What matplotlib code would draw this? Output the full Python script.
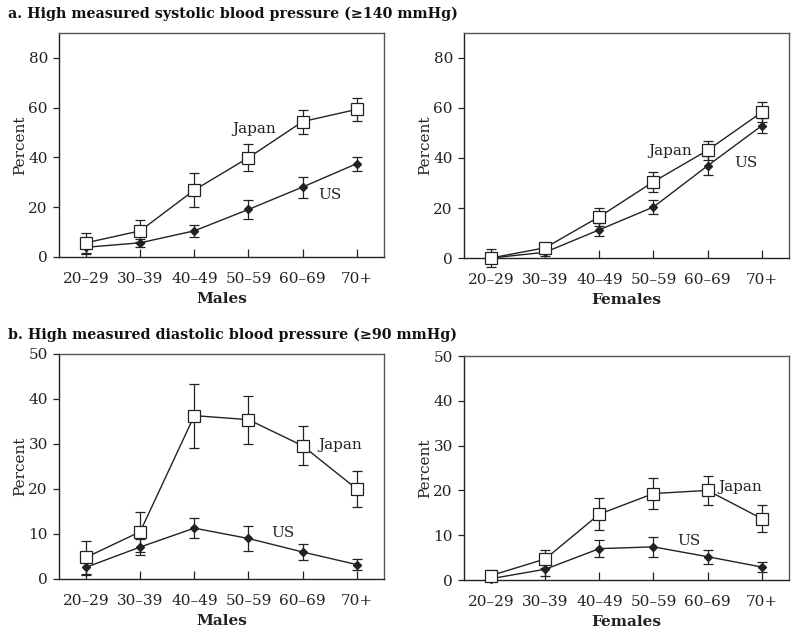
import matplotlib.pyplot as plt

ages = ["20–29", "30–39", "40–49", "50–59", "60–69", "70+"]

# a. systolic >= 140 mmHg
sys_m_japan = [5.7, 10.5, 26.9, 39.9, 54.4, 59.3]
sys_m_japan_err = [4.0, 4.4, 6.7, 5.5, 4.8, 4.7]
sys_m_us = [3.9, 5.7, 10.5, 19.1, 28.1, 37.5]
sys_m_us_err = [2.5, 1.5, 2.4, 3.9, 4.2, 2.8]

sys_f_japan = [0.0, 4.1, 16.5, 30.5, 43.1, 58.3]
sys_f_japan_err = [3.5, 1.5, 3.6, 4.0, 3.8, 4.0]
sys_f_us = [0.0, 2.3, 11.3, 20.4, 36.9, 52.9]
sys_f_us_err = [0.5, 1.5, 2.6, 2.7, 3.7, 3.0]

# b. diastolic >= 90 mmHg
dia_m_japan = [4.8, 10.5, 36.3, 35.4, 29.6, 20.0]
dia_m_japan_err = [3.7, 4.4, 7.1, 5.3, 4.3, 3.9]
dia_m_us = [2.6, 7.1, 11.3, 9.0, 6.0, 3.2]
dia_m_us_err = [1.8, 1.8, 2.3, 2.7, 1.7, 1.3]

dia_f_japan = [1.0, 4.7, 14.7, 19.3, 20.0, 13.7]
dia_f_japan_err = [1.2, 2.0, 3.6, 3.4, 3.3, 3.0]
dia_f_us = [0.3, 2.4, 7.0, 7.4, 5.2, 2.9]
dia_f_us_err = [0.5, 1.5, 1.9, 2.2, 1.6, 1.1]

plt.rcParams['font.family'] = ['DejaVu Serif']
ink = '#222222'
fs = 11

fig = plt.figure(figsize=(8, 6.38), dpi=100)

panels = [
    # rect, ylim, yticks, japan, japan_err, us, us_err, xlabel, japan label pos, us label pos
    ([0.07375, 0.5972, 0.406, 0.3511], 90, [0, 20, 40, 60, 80],
     sys_m_japan, sys_m_japan_err, sys_m_us, sys_m_us_err, "Males", (3.1, 51.5), (4.5, 25)),
    ([0.58, 0.5956, 0.406, 0.3527], 90, [0, 20, 40, 60, 80],
     sys_f_japan, sys_f_japan_err, sys_f_us, sys_f_us_err, "Females", (3.3, 42.9), (4.7, 37.9)),
    ([0.07375, 0.0925, 0.406, 0.3527], 50, [0, 10, 20, 30, 40, 50],
     dia_m_japan, dia_m_japan_err, dia_m_us, dia_m_us_err, "Males", (4.7, 29.7), (3.64, 10.25)),
    ([0.58, 0.0909, 0.406, 0.3511], 50, [0, 10, 20, 30, 40, 50],
     dia_f_japan, dia_f_japan_err, dia_f_us, dia_f_us_err, "Females", (4.6, 20.8), (3.66, 8.6)),
]

x = list(range(len(ages)))
for rect, ymax, yticks, jp, jp_err, us, us_err, xlab, jp_pos, us_pos in panels:
    ax = fig.add_axes(rect)
    ax.errorbar(x, us, yerr=us_err, color=ink, lw=1, marker='D', ms=4.5,
                mfc=ink, mec=ink, capsize=3.5, elinewidth=0.9, capthick=0.9, zorder=3,
                clip_on=False)
    ax.errorbar(x, jp, yerr=jp_err, color=ink, lw=1, marker='s', ms=8,
                mfc='white', mec=ink, mew=0.9, capsize=3.5, elinewidth=0.9,
                capthick=0.9, zorder=4, clip_on=False)
    ax.text(*jp_pos, "Japan", ha='center', va='center', fontsize=fs, color=ink)
    ax.text(*us_pos, "US", ha='center', va='center', fontsize=fs, color=ink)
    ax.set_xlim(-0.5, 5.5)
    ax.set_ylim(0, ymax)
    ax.set_xticks(x)
    ax.set_xticklabels(ages)
    ax.set_yticks(yticks)
    ax.tick_params(axis='x', direction='in', length=6, width=0.9, pad=11,
                   labelsize=fs, colors=ink)
    ax.tick_params(axis='y', direction='out', length=4, width=0.9, pad=4,
                   labelsize=fs, colors=ink)
    ax.set_xlabel(xlab, fontsize=fs, fontweight='bold', color=ink, labelpad=4)
    ax.set_ylabel("Percent", fontsize=fs, color=ink, labelpad=1)
    for s in ax.spines.values():
        s.set_linewidth(1.0)
        s.set_color(ink)
    for s in ('top', 'right'):
        ax.spines[s].set_color('#555555')

fig.text(0.01, 0.978, "a. High measured systolic blood pressure (≥140 mmHg)",
         fontsize=10.3, fontweight='bold', ha='left', va='center', color='#111111')
fig.text(0.01, 0.475, "b. High measured diastolic blood pressure (≥90 mmHg)",
         fontsize=10.3, fontweight='bold', ha='left', va='center', color='#111111')

fig.savefig("out.png", dpi=100)
